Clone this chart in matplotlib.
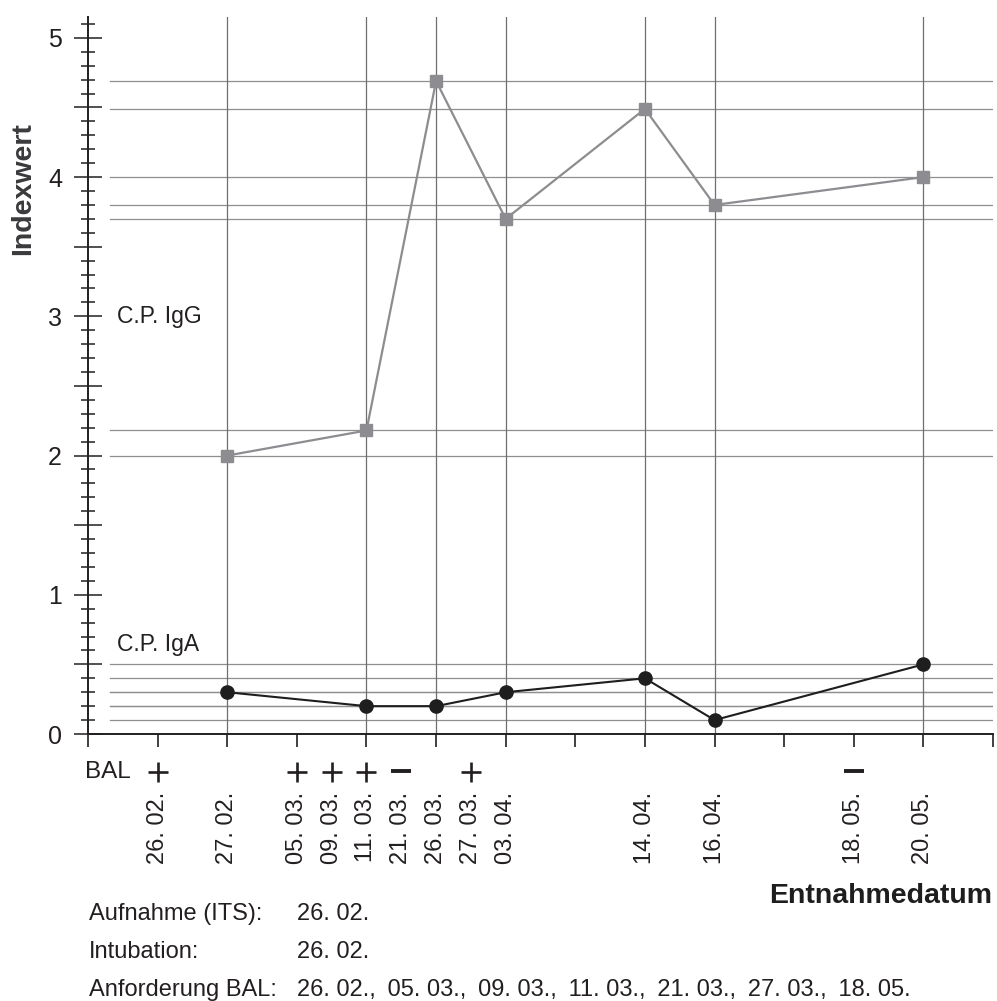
"""Chlamydophila-Serologie (C.P. IgG / IgA) im Verlauf, mit BAL-Befunden."""
import matplotlib as mpl

mpl.use("Agg")

import matplotlib.pyplot as plt
import matplotlib.transforms as mtransforms
from matplotlib.ticker import FixedLocator, FuncFormatter, MultipleLocator, NullFormatter

plt.rcParams["font.family"] = ["Liberation Sans", "DejaVu Sans"]

W, H = 997, 1001
INK = "#231f20"
IGG_COLOR = "#8d8d91"
IGA_COLOR = "#1e1e1e"
GRID_H = "#8f8f8f"
GRID_V = "#6f6f6f"

# Datumsachse: alle Termine mit Position auf der Achse
dates = ["26. 02.", "27. 02.", "05. 03.", "09. 03.", "11. 03.", "21. 03.", "26. 03.",
         "27. 03.", "03. 04.", "14. 04.", "16. 04.", "18. 05.", "20. 05."]
date_pos = [1, 2, 3, 3.5, 4, 4.5, 5, 5.5, 6, 8, 9, 11, 12]

# Entnahmen mit Indexwerten
sample_dates = ["27. 02.", "11. 03.", "26. 03.", "03. 04.", "14. 04.", "16. 04.", "20. 05."]
igg = [2.0, 2.18, 4.69, 3.7, 4.49, 3.8, 4.0]
iga = [0.3, 0.2, 0.2, 0.3, 0.4, 0.1, 0.5]

# BAL-Befunde
bal_dates = ["26. 02.", "05. 03.", "09. 03.", "11. 03.", "21. 03.", "27. 03.", "18. 05."]
bal_result = ["+", "+", "+", "+", "-", "+", "-"]

info_rows = [("Aufnahme (ITS):", "26. 02."),
             ("Intubation:", "26. 02."),
             ("Anforderung BAL:", ",\u2002".join(bal_dates))]


def fy(px):
    return 1 - px / H


pos = dict(zip(dates, date_pos))
xs = [pos[d] for d in sample_dates]

fig = plt.figure(figsize=(W / 100, H / 100), dpi=100)
ax = fig.add_axes([88 / W, fy(734), 905 / W, (734 - 17) / H])
ax.set_xlim(0, 13)
ax.set_ylim(0, 5.15)

for s in ("top", "right"):
    ax.spines[s].set_visible(False)
for s in ("left", "bottom"):
    ax.spines[s].set_linewidth(1.4)
    ax.spines[s].set_color(INK)

# Hilfslinien auf Höhe der Messwerte und an den Entnahmetagen
for v in igg + iga:
    ax.axhline(v, xmin=22 / 905, xmax=1, color=GRID_H, lw=0.9, zorder=1)
for x in xs:
    ax.axvline(x, color=GRID_V, lw=0.9, zorder=1)

ax.plot(xs, igg, color=IGG_COLOR, lw=1.6, marker="s", ms=8.5, mec=IGG_COLOR, zorder=3)
ax.plot(xs, iga, color=IGA_COLOR, lw=1.5, marker="o", ms=9.5, zorder=3)

ax.text(0.42, 3.0, "C.P. IgG", fontsize=16.5, color=INK, va="center")
ax.text(0.42, 0.645, "C.P. IgA", fontsize=16.5, color=INK, va="center")

# Achsen
ax.yaxis.set_major_locator(MultipleLocator(0.5))
ax.yaxis.set_minor_locator(MultipleLocator(0.1))
ax.yaxis.set_major_formatter(FuncFormatter(lambda v, _: f"{v:.0f}" if v % 1 == 0 else ""))
ax.tick_params(axis="y", which="major", direction="inout", length=19.5, width=1.1,
               pad=9, labelsize=18, colors=INK)
ax.tick_params(axis="y", which="minor", direction="inout", length=10, width=1.1, colors=INK)
ax.xaxis.set_major_locator(FixedLocator(range(14)))
ax.xaxis.set_major_formatter(NullFormatter())
ax.tick_params(axis="x", which="major", direction="out", length=9.5, width=1.2, colors=INK)

fig.text(23 / W, fy(189), "Indexwert", rotation=90, ha="center", va="center",
         fontsize=20.5, weight="bold", color="#3a3a3c")

trans = mtransforms.blended_transform_factory(ax.transData, fig.transFigure)

# BAL-Zeile
fig.text(85 / W, fy(772), "BAL", ha="left", va="center", fontsize=17.5, color=INK)
for d, r in zip(bal_dates, bal_result):
    if r == "+":
        ax.plot(pos[d], fy(772), marker="+", ms=14.5, mew=1.9, color=INK,
                transform=trans, clip_on=False)
    else:
        ax.plot(pos[d], fy(771), marker="_", ms=14.5, mew=2.8, color=INK,
                transform=trans, clip_on=False)

for d, x in zip(dates, date_pos):
    ax.text(x, fy(792), d, transform=trans, rotation=90, ha="center", va="top",
            fontsize=17, color=INK)

fig.text(992 / W, fy(903), "Entnahmedatum", ha="right", va="baseline",
         fontsize=20.5, weight="bold", color="#1e1e1e")

for i, (lbl, val) in enumerate(info_rows):
    base = fy(920 + 38 * i)
    fig.text(89 / W, base, lbl, ha="left", va="baseline", fontsize=17, color=INK)
    fig.text(297 / W, base, val, ha="left", va="baseline", fontsize=17, color=INK)

fig.savefig("out.png", dpi=100, facecolor="white")
